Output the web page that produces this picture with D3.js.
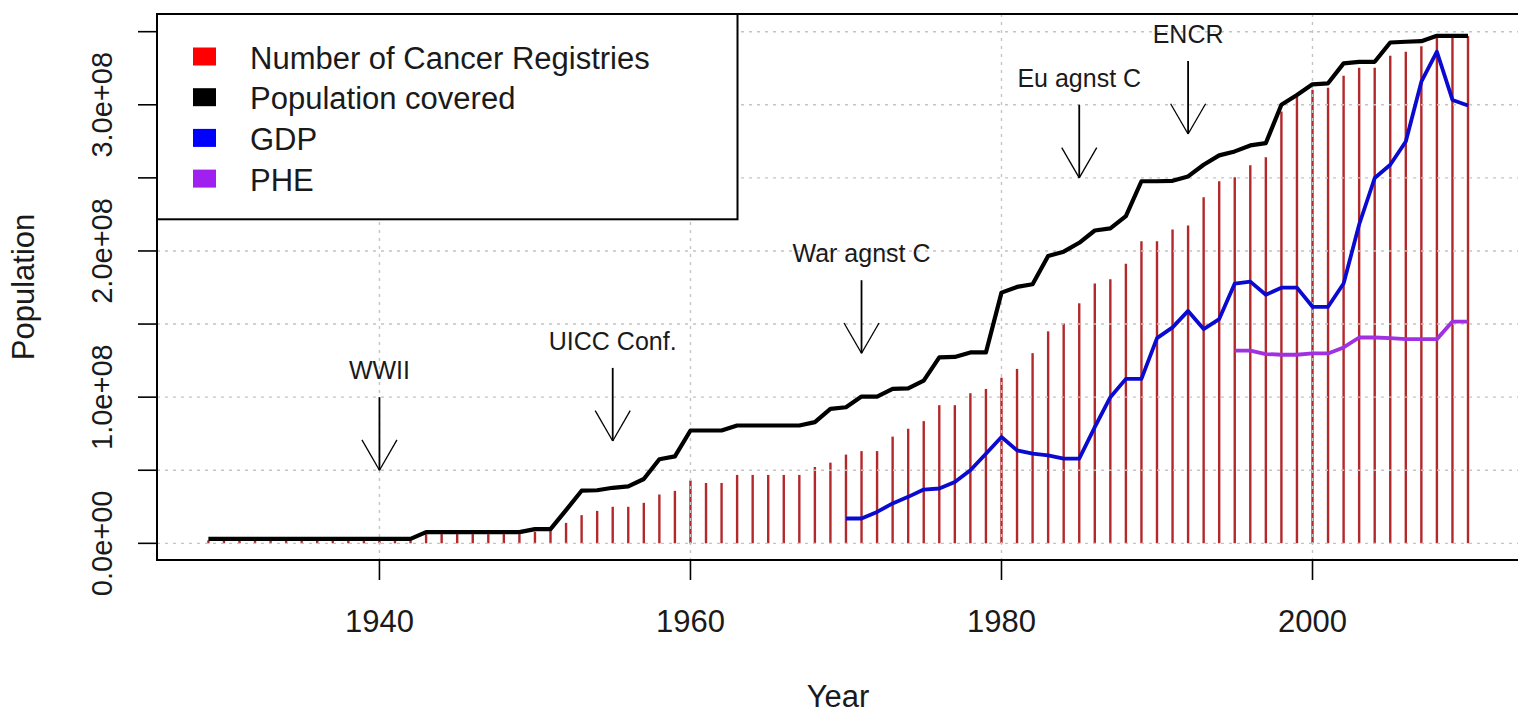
<!DOCTYPE html>
<html><head><meta charset="utf-8">
<script src="https://cdn.jsdelivr.net/npm/d3@7"></script>
<style>
body{margin:0;background:#fff}
svg{display:block}
text{font-family:"Liberation Sans",Arial,sans-serif;fill:#1a1a1a}
</style>
</head><body><svg id="c" width="1518" height="721"></svg>
<script>
// ---- data (population-axis units: millions) ----
const years = [1929,1930,1931,1932,1933,1934,1935,1936,1937,1938,1939,
  1940,1941,1942,1943,1944,1945,1946,1947,1948,1949,
  1950,1951,1952,1953,1954,1955,1956,1957,1958,1959,
  1960,1961,1962,1963,1964,1965,1966,1967,1968,1969,
  1970,1971,1972,1973,1974,1975,1976,1977,1978,1979,
  1980,1981,1982,1983,1984,1985,1986,1987,1988,1989,
  1990,1991,1992,1993,1994,1995,1996,1997,1998,1999,
  2000,2001,2002,2003,2004,2005,2006,2007,2008,2009,2010];

const populationCovered = [3,3,3,3,3,3,3,3,3,3,3,
  3,3,3,7.7,7.7,7.7,7.7,7.7,7.7,7.7,
  9.7,9.7,22.7,36,36.3,38,39,44,57.5,59.5,
  77.2,77.2,77.2,80.6,80.6,80.6,80.6,80.6,82.9,92,
  93.1,100.4,100.4,105.7,106,111.3,127.2,127.5,130.6,130.6,
  171.5,175.4,177.2,196.5,199.5,205.6,214,215.4,223.8,247.7,
  247.7,248,251,259,265.4,268.1,272.2,273.8,300,306.7,
  314,314.7,328.3,329.4,329.4,342.6,343.1,343.5,347.2,347.2,347.2];

const cancerRegistries = [2,2,2,2,2,2,2,2,2,2,2,
  2,2,2,6.3,6.3,6.3,6.3,6.3,6.3,6.3,
  7.9,9.1,14,19.3,22.2,25,25,27.7,33.4,35.9,
  43,41.3,41.3,46.8,46.8,46.8,46.8,46.8,52.2,55.2,
  60.7,63.1,63.1,73,78.4,83.6,94.5,94.5,102.7,105.6,
  113.3,119.3,130.1,145,150.4,164.2,177.7,180.6,191.3,206.7,
  206.7,214.7,217.5,236.7,247.7,250.4,258.6,264.1,295.4,305.6,
  310.2,311.7,319.9,325.4,325.4,333.5,336.3,340,346.5,347,347];

const gdpYears = [1970,1971,1972,1973,1974,1975,1976,1977,1978,1979,
  1980,1981,1982,1983,1984,1985,1986,1987,1988,1989,
  1990,1991,1992,1993,1994,1995,1996,1997,1998,1999,
  2000,2001,2002,2003,2004,2005,2006,2007,2008,2009,2010];
const gdp = [17,17,21.5,27.3,31.8,36.8,37.5,42,50,61.3,
  72.7,63.6,61.3,60.2,57.9,57.9,79.5,100,112.5,112.5,
  140.4,147.7,159,146.6,153.4,177.7,179,170,174.9,174.9,
  161.8,161.8,177.7,218.1,249.9,259,274.9,315.8,336.3,303.3,299.5];

const pheYears = [1995,1996,1997,1998,1999,2000,2001,2002,2003,2004,2005,2006,2007,2008,2009,2010];
const phe = [131.8,131.8,129.5,129,129,129.9,129.9,134,140.8,140.8,140.4,139.7,139.7,139.7,151.7,151.7];

const eventLabels = ["WWII","UICC Conf.","War agnst C","Eu agnst C","ENCR"];
const eventYears  = [1940,1955,1971,1985,1992];
const eventLevels = [100,120,180,300,330];

const xTicks = [1940,1960,1980,2000];
const yTicks = [0,50,100,150,200,250,300,350];
const yLabelTicks = [0,100,200,300];

const legendLabels = ["Number of Cancer Registries","Population covered","GDP","PHE"];
const legendColors = ["#ff0000","#000000","#0000ff","#a020f0"];

// ---- layout ----
const svg = d3.select("#c");
const L = 157, T = 14, R = 1518, B = 560;
const x = d3.scaleLinear().domain([1925.76, 2013.24]).range([158, 1518.4]);
const y = d3.scaleLinear().domain([-11.4, 362.1]).range([B, T]);

svg.append("defs").append("clipPath").attr("id","pc")
  .append("rect").attr("x",L).attr("y",T).attr("width",R-L).attr("height",B-T);

const plot = svg.append("g").attr("clip-path","url(#pc)");

// bars (type 'h')
plot.append("g").selectAll("line").data(years).join("line")
  .attr("x1",(d)=>x(d)).attr("x2",(d)=>x(d))
  .attr("y1",y(0)).attr("y2",(d,i)=>y(cancerRegistries[i]))
  .attr("stroke","#b3282b").attr("stroke-width",2.4);

// grid
const grid = plot.append("g").attr("stroke","#c4c4c4").attr("stroke-width",1.4).attr("stroke-dasharray","3,5");
grid.selectAll("line.h").data(yTicks).join("line").attr("class","h")
  .attr("x1",L).attr("x2",R).attr("y1",d=>y(d)).attr("y2",d=>y(d));
grid.selectAll("line.v").data(xTicks).join("line").attr("class","v")
  .attr("y1",T).attr("y2",B).attr("x1",d=>x(d)).attr("x2",d=>x(d));

// lines
const popLine = d3.line().x((d,i)=>x(years[i])).y(d=>y(d));
plot.append("path").datum(populationCovered).attr("d",popLine)
  .attr("fill","none").attr("stroke","#000").attr("stroke-width",4.2).attr("stroke-linejoin","round");
const gdpLine = d3.line().x((d,i)=>x(gdpYears[i])).y(d=>y(d));
plot.append("path").datum(gdp).attr("d",gdpLine)
  .attr("fill","none").attr("stroke","#0a0ad0").attr("stroke-width",3.8).attr("stroke-linejoin","round");
const pheLine = d3.line().x((d,i)=>x(pheYears[i])).y(d=>y(d));
plot.append("path").datum(phe).attr("d",pheLine)
  .attr("fill","none").attr("stroke","#a030e0").attr("stroke-width",3.8).attr("stroke-linejoin","round");

// annotations: arrows + labels
const ann = plot.append("g");
eventLabels.forEach((lab,i)=>{
  const ax = x(eventYears[i]);
  const y0 = y(eventLevels[i]), y1 = y(eventLevels[i]-50);
  ann.append("line").attr("x1",ax).attr("x2",ax).attr("y1",y0).attr("y2",y1)
    .attr("stroke","#000").attr("stroke-width",1.8);
  const hl = 35, ang = 30*Math.PI/180;
  [-1,1].forEach(s=>{
    ann.append("line").attr("x1",ax).attr("y1",y1)
      .attr("x2",ax + s*hl*Math.sin(ang)).attr("y2",y1 - hl*Math.cos(ang))
      .attr("stroke","#000").attr("stroke-width",1.3);
  });
  ann.append("text").attr("x",ax).attr("y",y(eventLevels[i]+20)+11)
    .attr("text-anchor","middle").attr("font-size",25).text(lab);
});

// box
svg.append("rect").attr("x",L).attr("y",T).attr("width",R-L+10).attr("height",B-T)
  .attr("fill","none").attr("stroke","#000").attr("stroke-width",2);

// x axis
const xa = svg.append("g");
xa.selectAll("line").data(xTicks).join("line")
  .attr("x1",d=>x(d)).attr("x2",d=>x(d)).attr("y1",B).attr("y2",B+20)
  .attr("stroke","#000").attr("stroke-width",1.6);
xa.selectAll("text").data(xTicks).join("text")
  .attr("x",d=>x(d)).attr("y",632).attr("text-anchor","middle").attr("font-size",31)
  .text(d=>d);

// y axis
const ya = svg.append("g");
ya.selectAll("line").data(yTicks).join("line")
  .attr("x1",L-19).attr("x2",L).attr("y1",d=>y(d)).attr("y2",d=>y(d))
  .attr("stroke","#000").attr("stroke-width",1.6);
const fmt = v => { const n = v*1e6; if(n===0) return "0.0e+00";
  const e = Math.floor(Math.log10(n)); const m = n/Math.pow(10,e);
  return m.toFixed(1)+"e+"+String(e).padStart(2,"0"); };
ya.selectAll("text").data(yLabelTicks).join("text")
  .attr("transform",d=>`translate(112,${y(d)}) rotate(-90)`)
  .attr("text-anchor","middle").attr("font-size",29).text(d=>fmt(d));

// axis titles
svg.append("text").attr("x",838).attr("y",707).attr("text-anchor","middle")
  .attr("font-size",31).text("Year");
svg.append("text").attr("transform",`translate(34,${(T+B)/2}) rotate(-90)`)
  .attr("text-anchor","middle").attr("font-size",31).text("Population");

// legend
const lg = svg.append("g");
lg.append("rect").attr("x",L).attr("y",T).attr("width",737.5-L).attr("height",219.3-T)
  .attr("fill","#fff").attr("stroke","#000").attr("stroke-width",2);
legendLabels.forEach((lab,i)=>{
  const by = 68.5 + i*40.7;
  lg.append("rect").attr("x",193).attr("y",by-21).attr("width",23).attr("height",18)
    .attr("fill",legendColors[i]);
  lg.append("text").attr("x",250).attr("y",by).attr("font-size",31).text(lab);
});
</script>
</body></html>
